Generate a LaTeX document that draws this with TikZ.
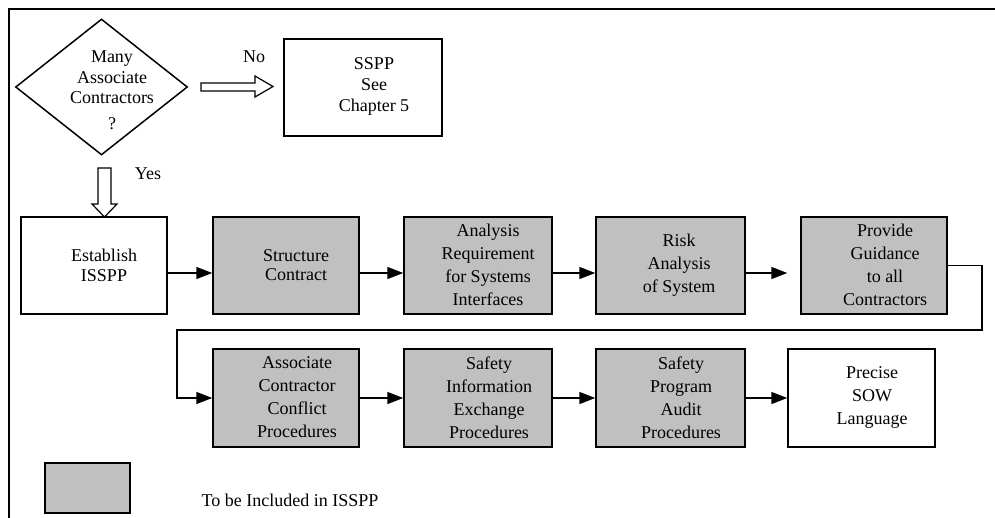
\documentclass[tikz,border=0pt]{standalone}
\usepackage{fontspec}
\setmainfont{Liberation Serif}
\usetikzlibrary{arrows.meta,shapes.geometric}
\definecolor{shade}{HTML}{C0C0C0}
\begin{document}
\begin{tikzpicture}[x=1pt,y=-1pt,
  every node/.style={font=\fontsize{18}{23}\selectfont},
  plainbox/.style={draw,line width=1.5pt,fill=white,inner sep=0pt},
  greybox/.style={draw,line width=1.5pt,fill=shade,inner sep=0pt},
  txt/.style={align=center,inner sep=0pt},
  flow/.style={line width=1.5pt,-{Triangle[length=16pt,width=12pt]}},
  blockarrow/.style={draw,line width=1.2pt,fill=white,line join=miter}]
\useasboundingbox (0,0) rectangle (995,518);

% frame (top and left edges)
\draw[line width=2pt] (9,518) -- (9,9) -- (995,9);

% decision
\node[draw,diamond,line width=1.5pt,minimum width=172pt,minimum height=136pt,
      inner sep=0pt,aspect=1.27] (q) at (101.5,87) {};
\node[txt,font=\fontsize{18}{20.5}\selectfont] (qt) at (112,90)
  {Many\\Associate\\Contractors\\[5pt]?};

% "No" branch
\node[plainbox,minimum width=158pt,minimum height=97pt] (sspp) at (363,87.5) {};
\node[txt,font=\fontsize{18}{21}\selectfont] (ssppt) at (374,86) {SSPP\\See\\Chapter 5};
\draw[blockarrow] (201,83) -- (255,83) -- (255,76) -- (273,86.5) -- (255,97)
  -- (255,91) -- (201,91) -- cycle;
\node[txt] (no) at (254,57) {No};

% "Yes" branch
\draw[blockarrow] (98,168) -- (111,168) -- (111,204) -- (117,204) -- (104.5,217)
  -- (92,204) -- (98,204) -- cycle;
\node[txt] (yes) at (148,174) {Yes};

% first row
\node[plainbox,minimum width=146pt,minimum height=97pt] (b1) at (94,265.5) {};
\node[txt,font=\fontsize{18}{20}\selectfont] (b1t) at (104,265) {Establish\\ISSPP};
\node[greybox,minimum width=146pt,minimum height=97pt] (b2) at (286,265.5) {};
\node[txt,font=\fontsize{18}{19}\selectfont] (b2t) at (296,265) {Structure\\Contract};
\node[greybox,minimum width=148pt,minimum height=97pt] (b3) at (478,265.5) {};
\node[txt] (b3t) at (488,265) {Analysis\\Requirement\\for Systems\\Interfaces};
\node[greybox,minimum width=149pt,minimum height=97pt] (b4) at (670.5,265.5) {};
\node[txt] (b4t) at (679,265) {Risk\\Analysis\\of System};
\node[greybox,minimum width=146pt,minimum height=97pt] (b5) at (874,265.5) {};
\node[txt] (b5t) at (885,264.5) {Provide\\Guidance\\to all\\Contractors};

% second row
\node[greybox,minimum width=146pt,minimum height=98pt] (c1) at (286,398) {};
\node[txt] (c1t) at (297,397.5) {Associate\\Contractor\\Conflict\\Procedures};
\node[greybox,minimum width=148pt,minimum height=98pt] (c2) at (478,398) {};
\node[txt] (c2t) at (489,397.5) {Safety\\Information\\Exchange\\Procedures};
\node[greybox,minimum width=149pt,minimum height=98pt] (c3) at (670.5,398) {};
\node[txt] (c3t) at (681,397.5) {Safety\\Program\\Audit\\Procedures};
\node[plainbox,minimum width=147pt,minimum height=98pt] (c4) at (861.5,398) {};
\node[txt] (c4t) at (872,397.5) {Precise\\SOW\\Language};

% connectors
\draw[flow] ([yshift=-7.5pt]b1.east) -- ([yshift=-7.5pt]b2.west);
\draw[flow] ([yshift=-7.5pt]b2.east) -- ([yshift=-7.5pt]b3.west);
\draw[flow] ([yshift=-7.5pt]b3.east) -- ([yshift=-7.5pt]b4.west);
\draw[flow] ([yshift=-7.5pt]b4.east) -- ([xshift=-13pt,yshift=-7.5pt]b5.west);
\draw[flow] (b5.east) -| (982,330) -| (177,398) -- (c1.west);
\draw[flow] (c1.east) -- (c2.west);
\draw[flow] (c2.east) -- (c3.west);
\draw[flow] (c3.east) -- (c4.west);

% legend
\node[greybox,minimum width=85pt,minimum height=50pt] (key) at (87.5,488) {};
\node[txt] (keyt) at (290,500) {To be Included in ISSPP};
\end{tikzpicture}
\end{document}
